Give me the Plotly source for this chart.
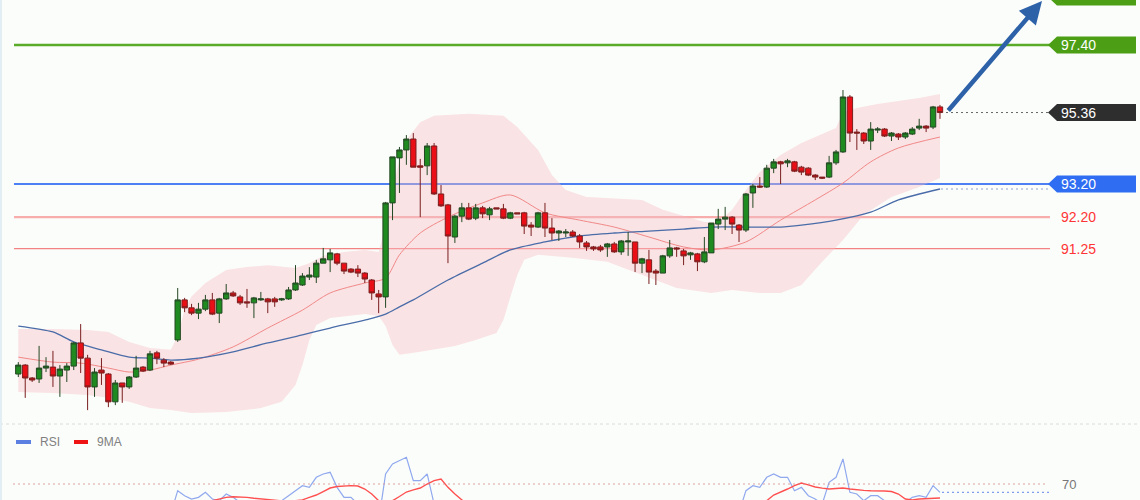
import plotly.graph_objects as go

W, H = 1140, 500

# ---------------- data ----------------
idx = list(range(134))
opens = [87.46, 87.73, 87.34, 87.31, 87.64, 87.67, 87.40, 87.58, 87.70, 88.40,
         87.94, 87.07, 87.58, 87.46, 86.62, 87.19, 87.07, 87.37, 87.67, 87.58,
         88.10, 87.88, 87.82, 88.49, 89.70, 89.46, 89.30, 89.42, 89.70, 89.30,
         89.73, 89.91, 89.79, 89.64, 89.61, 89.70, 89.73, 89.73, 89.70, 89.73,
         90.00, 90.15, 90.39, 90.39, 90.81, 90.91, 91.09, 90.81, 90.63, 90.63,
         90.51, 90.30, 89.88, 89.79, 92.63, 93.99, 94.23, 94.56, 93.75, 93.75,
         94.35, 92.90, 92.57, 91.60, 92.23, 92.48, 92.17, 92.48, 92.27, 92.48,
         92.45, 92.17, 92.33, 92.33, 91.96, 91.90, 92.33, 91.87, 91.72, 91.72,
         91.75, 91.63, 91.42, 91.30, 91.30, 91.30, 91.39, 91.15, 91.45, 91.45,
         90.81, 90.91, 90.57, 90.51, 91.03, 91.27, 91.18, 91.06, 91.09, 90.85,
         91.12, 91.99, 92.14, 92.20, 91.96, 91.81, 92.93, 93.14, 93.11, 93.68,
         93.87, 93.84, 93.87, 93.71, 93.68, 93.47, 93.41, 93.41, 93.84, 94.17,
         95.83, 94.77, 94.74, 94.50, 94.83, 94.86, 94.65, 94.71, 94.62, 94.71,
         94.89, 94.95, 94.92, 95.53]
highs = [87.82, 87.76, 87.37, 88.31, 87.97, 88.16, 87.73, 87.79, 88.43, 88.97,
         88.04, 87.64, 87.94, 87.49, 87.28, 87.19, 87.40, 88.01, 87.70, 88.16,
         88.16, 87.94, 87.85, 90.06, 89.76, 89.58, 89.61, 89.85, 89.91, 89.76,
         90.18, 89.97, 89.85, 90.03, 89.79, 89.94, 89.76, 89.79, 89.76, 90.09,
         90.75, 90.51, 90.69, 90.91, 91.27, 91.24, 91.12, 90.81, 90.66, 90.75,
         90.54, 90.33, 90.00, 92.66, 94.02, 94.32, 94.68, 94.74, 93.96, 94.44,
         94.44, 93.17, 92.60, 92.27, 92.63, 92.63, 92.60, 92.54, 92.51, 92.48,
         92.60, 92.36, 92.33, 92.36, 92.05, 92.36, 92.63, 92.17, 91.81, 91.84,
         91.81, 91.69, 91.48, 91.33, 91.36, 91.42, 91.45, 91.51, 91.75, 91.45,
         90.97, 91.21, 90.63, 91.06, 91.51, 91.30, 91.24, 91.15, 91.12, 91.60,
         92.02, 92.45, 92.51, 92.23, 91.99, 92.93, 93.20, 93.41, 93.78, 93.96,
         93.90, 93.96, 93.90, 93.75, 93.71, 93.50, 93.41, 94.05, 94.23, 96.04,
         95.89, 94.86, 94.77, 95.07, 94.92, 94.89, 94.77, 94.74, 94.77, 94.92,
         95.17, 94.98, 95.56, 95.59]
lows = [87.37, 86.74, 87.22, 87.19, 87.52, 87.07, 86.77, 87.22, 87.58, 87.49,
        86.37, 86.77, 87.13, 86.46, 86.52, 86.59, 87.01, 87.34, 87.52, 87.55,
        87.76, 87.67, 87.73, 88.43, 89.33, 89.24, 89.12, 89.36, 89.24, 89.00,
        89.70, 89.79, 89.55, 89.46, 89.15, 89.67, 89.30, 89.49, 89.67, 89.70,
        89.97, 90.12, 90.30, 90.21, 90.81, 90.54, 90.75, 90.48, 90.51, 90.39,
        90.21, 89.70, 89.30, 89.46, 92.11, 92.93, 93.78, 93.71, 92.20, 93.47,
        92.87, 92.51, 90.81, 91.42, 92.05, 92.11, 92.11, 92.17, 92.11, 92.45,
        92.14, 92.14, 92.30, 91.69, 91.63, 91.87, 91.60, 91.51, 91.48, 91.60,
        91.60, 91.27, 91.18, 91.18, 91.15, 91.00, 91.12, 91.06, 91.03, 90.54,
        90.51, 90.18, 90.15, 90.51, 90.97, 91.00, 90.75, 90.91, 90.57, 90.81,
        91.12, 91.84, 91.81, 91.69, 91.45, 91.75, 92.48, 93.08, 93.08, 93.53,
        93.20, 93.71, 93.56, 93.47, 93.44, 93.32, 93.35, 93.38, 93.78, 94.14,
        94.47, 94.23, 94.41, 94.23, 94.74, 94.62, 94.50, 94.53, 94.56, 94.68,
        94.83, 94.77, 94.86, 95.17]
closes = [87.73, 87.34, 87.28, 87.64, 87.70, 87.40, 87.61, 87.70, 88.40, 87.94,
          87.07, 87.52, 87.49, 86.62, 87.19, 87.07, 87.37, 87.64, 87.55, 88.07,
          87.94, 87.79, 87.76, 89.70, 89.46, 89.30, 89.42, 89.70, 89.27, 89.73,
          89.91, 89.82, 89.61, 89.61, 89.76, 89.73, 89.64, 89.64, 89.73, 90.00,
          90.21, 90.42, 90.45, 90.81, 90.94, 91.12, 90.81, 90.57, 90.54, 90.51,
          90.33, 89.91, 89.79, 92.63, 94.02, 94.23, 94.56, 93.71, 93.71, 94.35,
          92.90, 92.54, 91.63, 92.23, 92.48, 92.14, 92.48, 92.30, 92.45, 92.45,
          92.17, 92.33, 92.30, 91.93, 91.90, 92.33, 91.87, 91.72, 91.78, 91.75,
          91.63, 91.45, 91.30, 91.24, 91.21, 91.39, 91.15, 91.48, 91.48, 90.81,
          90.94, 90.54, 90.51, 91.03, 91.27, 91.24, 91.03, 91.12, 90.85, 91.15,
          92.02, 92.14, 92.20, 91.99, 91.81, 92.90, 93.14, 93.11, 93.68, 93.87,
          93.81, 93.90, 93.59, 93.56, 93.47, 93.41, 93.38, 93.84, 94.17, 95.83,
          94.74, 94.74, 94.50, 94.86, 94.86, 94.65, 94.74, 94.62, 94.74, 94.86,
          94.95, 94.89, 95.53, 95.36]

bb_up_idx = [0, 5, 10, 13, 16, 19, 22, 23, 24, 25, 27, 30, 33, 36, 40, 42, 44, 47, 50, 52,
             53, 54, 55, 56, 58, 60, 65, 70, 72, 75, 77, 79, 82, 85, 90, 93, 96, 99, 101, 103,
             105, 107, 110, 113, 116, 118, 119, 121, 124, 127, 130, 133]
bb_upper = [88.82, 88.82, 88.79, 88.73, 88.43, 88.25, 88.19, 88.60, 89.40, 89.80,
            90.21, 90.60, 90.69, 90.75, 90.66, 90.81, 91.03, 91.15, 91.21, 91.15,
            91.96, 93.02, 93.93, 94.53, 95.07, 95.26, 95.32, 95.26, 94.92, 94.23,
            93.47, 93.02, 92.81, 92.78, 92.72, 92.42, 92.23, 92.05, 92.05, 92.42,
            93.02, 93.56, 94.08, 94.44, 94.71, 94.89, 95.38, 95.50, 95.62, 95.71,
            95.80, 95.92]
bb_lo_idx = [0, 5, 10, 13, 16, 19, 22, 25, 30, 35, 38, 40, 41, 42, 43, 45, 50, 52, 53, 54,
             55, 58, 60, 63, 66, 69, 70, 71, 72, 73, 75, 80, 85, 90, 95, 100, 103, 107, 110, 113,
             116, 119, 122, 126, 130, 133]
bb_lower = [86.92, 86.89, 86.83, 86.74, 86.62, 86.43, 86.37, 86.28, 86.31, 86.43,
            86.62, 87.13, 87.73, 88.49, 88.94, 89.15, 89.27, 89.21, 88.91, 88.34,
            88.04, 88.13, 88.19, 88.31, 88.49, 88.70, 89.09, 89.79, 90.45, 90.91,
            91.06, 90.97, 90.85, 90.45, 90.06, 89.91, 90.00, 89.91, 89.91, 90.15,
            90.85, 91.51, 92.27, 92.81, 93.11, 93.38]

ma20_idx = [0, 5, 9, 13, 16, 19, 22, 26, 31, 36, 41, 45, 50, 53, 55, 58, 62, 67, 71, 76,
            81, 86, 91, 96, 100, 105, 110, 115, 119, 123, 127, 133]
ma20 = [87.97, 87.82, 87.79, 87.64, 87.52, 87.58, 87.73, 87.91, 88.28, 88.85,
        89.39, 89.91, 90.21, 90.36, 91.06, 91.72, 92.20, 92.63, 92.87, 92.33,
        92.11, 91.90, 91.60, 91.30, 91.21, 91.45, 92.11, 92.72, 93.23, 93.87,
        94.29, 94.62]
ma_long_idx = [0, 5, 8, 12, 16, 19, 22, 26, 31, 36, 41, 45, 50, 53, 55, 57, 62, 67, 71, 76,
               81, 86, 91, 96, 100, 105, 110, 113, 118, 123, 127, 133]
ma_long = [88.91, 88.73, 88.43, 88.19, 87.97, 87.94, 87.88, 87.94, 88.13, 88.40,
           88.64, 88.85, 89.09, 89.27, 89.49, 89.70, 90.30, 90.81, 91.21, 91.45,
           91.63, 91.72, 91.78, 91.84, 91.90, 91.90, 91.90, 91.96, 92.11, 92.35,
           92.72, 93.05]

rsi = [52, 48, 47, 50, 51, 48, 50, 51, 57, 52, 44, 48, 47, 41, 46, 45, 48, 51, 50, 55,
       53, 52, 52, 66, 63, 61, 62, 65, 61, 60, 64, 62, 59, 59, 60, 59, 58, 58, 60, 63,
       66, 69, 68, 74, 76, 77, 68, 62, 62, 58, 56, 50, 48, 76, 82, 84, 86, 72, 72, 76,
       58, 55, 45, 52, 54, 51, 54, 52, 53, 53, 50, 52, 51, 47, 47, 52, 47, 46, 46, 46,
       45, 43, 41, 41, 41, 43, 40, 45, 45, 38, 40, 36, 36, 43, 46, 46, 44, 45, 42, 46,
       56, 58, 59, 55, 53, 66, 69, 68, 74, 76, 74, 74, 66, 68, 63, 61, 58, 71, 74, 85,
       65, 64, 60, 63, 63, 60, 59, 58, 59, 62, 63, 62, 69, 65]
rsi_ma9 = [52, 51, 50, 50, 50, 50, 50, 50, 51, 51, 50, 49, 49, 48, 48, 47, 47, 47, 48, 48,
           49, 50, 50, 52, 54, 56, 58, 59, 60, 61, 62, 62.4, 62.4, 62, 61.5, 61, 60.5, 60, 59.5, 59.5,
           60, 60.5, 62, 63.4, 65.5, 67.6, 68.5, 68.8, 69, 68.8, 67, 64, 60, 59, 60, 62.5, 65.2, 66.5, 67.6, 70,
           72, 73, 68, 64, 60, 57, 55, 53, 52, 51, 51, 51, 50, 50, 50, 49, 49, 48, 48, 47,
           46, 45, 44, 44, 43, 43, 42, 42, 42, 41, 41, 41, 41, 42, 43, 44, 45, 47, 49, 51,
           52, 53, 54, 55, 56, 57, 58, 59, 60, 63.4, 65, 67, 69, 70.6, 69.5, 68.2, 67.5, 67, 67.3, 67.6,
           67, 66.4, 66.2, 66, 66, 65.8, 65.5, 64, 61, 60.5, 61, 61.2, 61.5, 61.6]

level_values = [97.40, 93.20, 92.20, 91.25]
level_labels = ["97.40", "93.20", "92.20", "91.25"]
top_level = 98.85
last_price = 95.36
rsi_level = 70

# ---------------- layout helpers ----------------
def pxx(p):
    return p / W

def pxy(p):
    return 1 - p / H

MAIN_TOP, MAIN_BOT = 0, 424
RSI_TOP, RSI_BOT = 428, 500
PPU = 33.1                     # pixels per price unit
Y_TOP = 98.76
Y_BOT = Y_TOP - (MAIN_BOT - MAIN_TOP) / PPU
RSI_PPU = 1.67
RSI_Y70 = 484
rsi_lo = rsi_level - (RSI_BOT - RSI_Y70) / RSI_PPU
rsi_hi = rsi_level + (RSI_Y70 - RSI_TOP) / RSI_PPU
X0 = 18.3
DX = 6.93
x_lo = -X0 / DX
x_hi = (W - X0) / DX

fig = go.Figure()

# Bollinger band area
fig.add_trace(go.Scatter(
    x=bb_up_idx + bb_lo_idx[::-1], y=bb_upper + bb_lower[::-1],
    fill="toself", fillcolor="rgba(248,188,196,0.40)", mode="lines",
    line=dict(width=0, color="rgba(0,0,0,0)"), hoverinfo="skip", showlegend=False))

fig.add_trace(go.Scatter(x=ma20_idx, y=ma20, mode="lines", line=dict(color="#f28888", width=1, shape="spline", smoothing=0.8),
                         hoverinfo="skip", showlegend=False))
fig.add_trace(go.Scatter(x=ma_long_idx, y=ma_long, mode="lines", line=dict(color="#4a6ca8", width=1.3, shape="spline", smoothing=0.8),
                         hoverinfo="skip", showlegend=False))

# candles on an overlaid axis so that they are painted above the band fill
fig.add_trace(go.Candlestick(
    x=idx, open=opens, high=highs, low=lows, close=closes, yaxis="y3",
    increasing=dict(line=dict(color="#244824", width=1), fillcolor="#1f8a1f"),
    decreasing=dict(line=dict(color="#7a1e1e", width=1), fillcolor="#ea0f17"),
    whiskerwidth=0, hoverinfo="skip", showlegend=False))

# RSI panel
fig.add_trace(go.Scatter(x=idx, y=rsi, yaxis="y2", mode="lines", line=dict(color="#90a9ee", width=1.2),
                         hoverinfo="skip", showlegend=False))
fig.add_trace(go.Scatter(x=idx, y=rsi_ma9, yaxis="y2", mode="lines", line=dict(color="#ff5050", width=1.4),
                         hoverinfo="skip", showlegend=False))

shapes = []
annotations = []

# horizontal levels
level_styles = [
    dict(color="#5aab28", width=2.6),
    dict(color="#4d80f2", width=2.0),
    dict(color="rgba(244,120,120,0.6)", width=2.4),
    dict(color="rgba(240,90,90,0.75)", width=1.2),
]
for val, st in zip(level_values, level_styles):
    shapes.append(dict(type="line", xref="paper", yref="y", x0=pxx(14), x1=pxx(1050), y0=val, y1=val,
                       line=st, layer="below"))

# dotted guides to labels
shapes.append(dict(type="line", xref="paper", yref="y", x0=pxx(946), x1=pxx(1050), y0=last_price, y1=last_price,
                   line=dict(color="#666666", width=1, dash="2px,3px")))
shapes.append(dict(type="line", xref="paper", yref="y", x0=pxx(941), x1=pxx(1050), y0=ma_long[-1], y1=ma_long[-1],
                   line=dict(color="#8ea3cc", width=1, dash="2px,3px")))

def tag(level, color, text):
    shapes.append(dict(type="path", xref="paper", yref="y", xsizemode="pixel", ysizemode="pixel",
                       xanchor=pxx(1048), yanchor=level,
                       path="M0,0 L9,8.5 L88,8.5 L88,-8.5 L9,-8.5 Z",
                       fillcolor=color, line=dict(width=0)))
    if text:
        annotations.append(dict(x=pxx(1059), y=level, xref="paper", yref="y", xanchor="left", yanchor="middle",
                                text=text, showarrow=False,
                                font=dict(family="Arial, Liberation Sans, sans-serif", size=14, color="white")))

tag(top_level, "#4c9f14", "")
tag(level_values[0], "#4c9f14", level_labels[0])
tag(last_price, "#2e2e2e", f"{last_price:.2f}")
tag(level_values[1], "#2f6ef2", level_labels[1])
for val, lab in zip(level_values[2:], level_labels[2:]):
    annotations.append(dict(x=pxx(1059), y=val, xref="paper", yref="y", xanchor="left", yanchor="middle",
                            text=lab, showarrow=False,
                            font=dict(family="Arial, Liberation Sans, sans-serif", size=14, color="#ff3434")))

# trend arrow
annotations.append(dict(x=pxx(1042), y=pxy(0), xref="paper", yref="paper", ax=-95, ay=112,
                        text="", showarrow=True, arrowhead=2, arrowsize=1, arrowwidth=4.5,
                        arrowcolor="#2d62a8"))

# separators / borders
shapes.append(dict(type="line", xref="paper", yref="paper", x0=0, x1=1, y0=pxy(424), y1=pxy(424),
                   line=dict(color="#d8dcd8", width=1, dash="3px,3px")))
shapes.append(dict(type="line", xref="paper", yref="paper", x0=pxx(1), x1=pxx(1), y0=0, y1=1,
                   line=dict(color="#e2eef4", width=2)))

# RSI 70 level and last-value guide
shapes.append(dict(type="line", xref="paper", yref="y2", x0=pxx(13), x1=pxx(1046), y0=rsi_level, y1=rsi_level,
                   line=dict(color="rgba(215,140,140,0.8)", width=1, dash="2px,3px")))
shapes.append(dict(type="line", xref="paper", yref="y2", x0=pxx(942), x1=pxx(1050), y0=rsi[-1], y1=rsi[-1],
                   line=dict(color="#7f9ef0", width=1.2, dash="2px,3px")))
annotations.append(dict(x=pxx(1060), y=rsi_level, xref="paper", yref="y2", xanchor="left", yanchor="middle",
                        text=str(rsi_level), showarrow=False,
                        font=dict(family="Arial, Liberation Sans, sans-serif", size=13, color="#777777")))

# RSI legend
shapes.append(dict(type="rect", xref="paper", yref="paper", x0=pxx(16), x1=pxx(31), y0=pxy(444), y1=pxy(440),
                   fillcolor="#5b80e2", line=dict(width=0)))
shapes.append(dict(type="rect", xref="paper", yref="paper", x0=pxx(74), x1=pxx(88), y0=pxy(444), y1=pxy(440),
                   fillcolor="#ee1414", line=dict(width=0)))
annotations.append(dict(x=pxx(38), y=pxy(442), xref="paper", yref="paper", xanchor="left", yanchor="middle",
                        text="RSI", showarrow=False,
                        font=dict(family="Arial, Liberation Sans, sans-serif", size=12, color="#808080")))
annotations.append(dict(x=pxx(95), y=pxy(442), xref="paper", yref="paper", xanchor="left", yanchor="middle",
                        text="9MA", showarrow=False,
                        font=dict(family="Arial, Liberation Sans, sans-serif", size=12, color="#808080")))

main_domain = [pxy(MAIN_BOT), pxy(MAIN_TOP)]
fig.update_layout(
    width=W, height=H,
    margin=dict(l=0, r=0, t=0, b=0),
    paper_bgcolor="#fbfdfb", plot_bgcolor="#fbfdfb",
    showlegend=False, hovermode=False,
    boxgap=0.12, boxgroupgap=0.12,
    xaxis=dict(range=[x_lo, x_hi], visible=False, fixedrange=True, rangeslider=dict(visible=False)),
    yaxis=dict(domain=main_domain, range=[Y_BOT, Y_TOP], visible=False, fixedrange=True),
    yaxis3=dict(domain=main_domain, range=[Y_BOT, Y_TOP], visible=False, fixedrange=True,
                overlaying="y", anchor="x"),
    yaxis2=dict(domain=[pxy(RSI_BOT), pxy(RSI_TOP)], range=[rsi_lo, rsi_hi], visible=False, fixedrange=True,
                anchor="x"),
    shapes=shapes, annotations=annotations,
)

fig.write_html("out.html")
